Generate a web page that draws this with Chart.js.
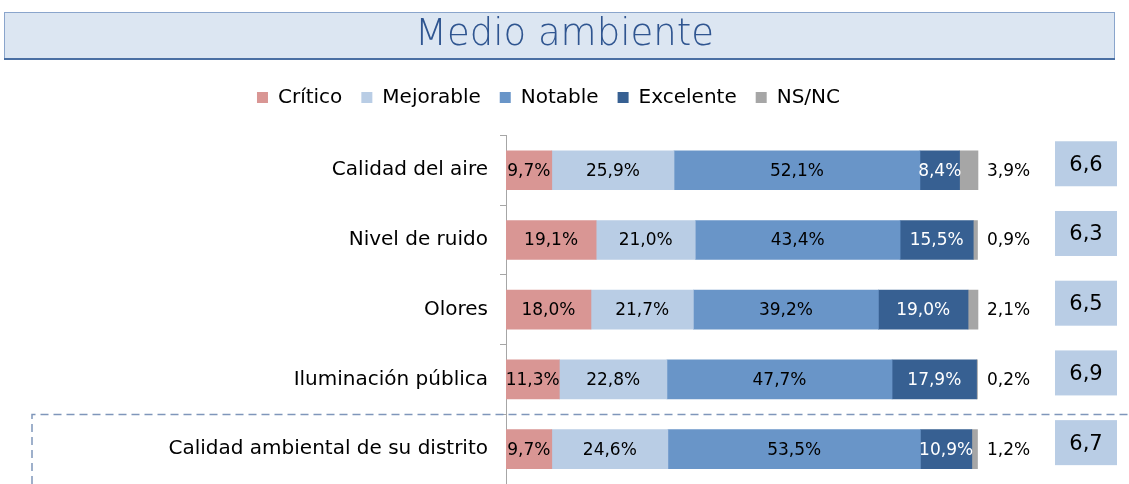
<!DOCTYPE html>
<html lang="es">
<head>
<meta charset="utf-8">
<title>Medio ambiente</title>
<script src="https://cdn.jsdelivr.net/npm/chart.js@4.4.1/dist/chart.umd.min.js"></script>
<style>
  html, body { margin: 0; padding: 0; background: #ffffff; }
</style>
</head>
<body>
<canvas id="chart" width="1129" height="484"></canvas>
<script>
// Values
const categories = ['Calidad del aire', 'Nivel de ruido', 'Olores', 'Iluminación pública', 'Calidad ambiental de su distrito'];
const critico = [9.7, 19.1, 18.0, 11.3, 9.7];
const mejorable = [25.9, 21.0, 21.7, 22.8, 24.6];
const notable = [52.1, 43.4, 39.2, 47.7, 53.5];
const excelente = [8.4, 15.5, 19.0, 17.9, 10.9];
const nsnc = [3.9, 0.9, 2.1, 0.2, 1.2];
const scores = [6.6, 6.3, 6.5, 6.9, 6.7];

const FONT = "'DejaVu Sans', sans-serif";

// Spanish number format: 9,7%
function pct(v) {
    return v.toFixed(1).replace('.', ',') + '%';
}

// Title frame drawn behind the chart title
const titleFrame = {
    id: 'titleFrame',
    afterLayout(chart) {
        // legend sits a bit left of centre in the original
        chart.legend.left -= 16;
        chart.legend.right -= 16;
    },
    beforeDraw(chart) {
        const ctx = chart.ctx;
        ctx.save();
        ctx.fillStyle = '#dce6f2';
        ctx.fillRect(4, 12, 1110, 47);
        ctx.strokeStyle = '#8aa5cc';
        ctx.lineWidth = 1;
        ctx.strokeRect(4.5, 12.5, 1110, 47);
        ctx.strokeStyle = '#4a6fa3';
        ctx.lineWidth = 2;
        ctx.beginPath();
        ctx.moveTo(4, 59);
        ctx.lineTo(1115, 59);
        ctx.stroke();
        ctx.restore();
    }
};

// Percent labels, NS/NC labels outside the bars, score boxes, dashed separator
const extras = {
    id: 'extras',
    afterDatasetsDraw(chart) {
        const ctx = chart.ctx;
        const xScale = chart.scales.x;
        const yScale = chart.scales.y;
        ctx.save();
        ctx.font = '17px ' + FONT;
        ctx.textBaseline = 'middle';

        chart.data.datasets.forEach(function(ds, d) {
            const meta = chart.getDatasetMeta(d);
            meta.data.forEach(function(bar, i) {
                const v = ds.data[i];
                if (d === 4) {
                    ctx.textAlign = 'left';
                    ctx.fillStyle = '#000000';
                    ctx.fillText(pct(v), xScale.getPixelForValue(100) + 9, bar.y + 1);
                } else {
                    ctx.textAlign = 'center';
                    ctx.fillStyle = d === 3 ? '#ffffff' : '#000000';
                    ctx.fillText(pct(v), (bar.x + bar.base) / 2, bar.y + 1);
                }
            });
        });

        // score boxes
        ctx.font = '21px ' + FONT;
        ctx.textAlign = 'center';
        scores.forEach(function(s, i) {
            const y = yScale.getPixelForValue(i);
            ctx.fillStyle = '#b9cde5';
            ctx.fillRect(1055, y - 29, 62, 45);
            ctx.fillStyle = '#000000';
            ctx.fillText(s.toFixed(1).replace('.', ','), 1086, y - 5);
        });

        // dashed separator before the global item
        const sepY = Math.round(yScale.getPixelForValue(3.5)) + 0.5;
        ctx.strokeStyle = '#7f96ba';
        ctx.lineWidth = 1.5;
        ctx.setLineDash([8, 5]);
        ctx.beginPath();
        ctx.moveTo(32, chart.height);
        ctx.lineTo(32, sepY);
        ctx.lineTo(chart.width, sepY);
        ctx.stroke();
        ctx.restore();
    }
};

const ctx = document.getElementById('chart').getContext('2d');
new Chart(ctx, {
    type: 'bar',
    data: {
        labels: categories,
        datasets: [
            { label: 'Crítico', data: critico, backgroundColor: '#d99694' },
            { label: 'Mejorable', data: mejorable, backgroundColor: '#b9cde5' },
            { label: 'Notable', data: notable, backgroundColor: '#6995c8' },
            { label: 'Excelente', data: excelente, backgroundColor: '#376092' },
            { label: 'NS/NC', data: nsnc, backgroundColor: '#a6a6a6' }
        ]
    },
    options: {
        indexAxis: 'y',
        responsive: false,
        animation: false,
        layout: { padding: 0 },
        datasets: {
            bar: { barThickness: 39, borderWidth: 0 }
        },
        scales: {
            x: {
                stacked: true,
                min: 0,
                max: 132,
                position: 'top',
                ticks: { display: false },
                grid: { display: false },
                border: { display: false },
                afterFit: function(s) { s.height = 18; }
            },
            y: {
                stacked: true,
                afterFit: function(s) {
                    s.width = 506;
                    s.paddingTop = 0;
                    s.paddingBottom = 0;
                },
                border: { display: true, color: '#a6a6a6' },
                grid: { drawOnChartArea: false, tickLength: 6, color: '#a6a6a6' },
                ticks: { color: '#000000', font: { family: FONT, size: 20 }, padding: 12, autoSkip: false }
            }
        },
        plugins: {
            title: {
                display: true,
                text: 'Medio ambiente',
                color: '#2f5590',
                font: { family: FONT, size: 37, weight: 200 },
                padding: { top: 13, bottom: 11 }
            },
            legend: {
                position: 'top',
                labels: {
                    color: '#000000',
                    font: { family: FONT, size: 20 },
                    boxWidth: 11,
                    boxHeight: 11,
                    padding: 19
                }
            },
            tooltip: { enabled: false }
        }
    },
    plugins: [titleFrame, extras]
});
</script>
</body>
</html>
